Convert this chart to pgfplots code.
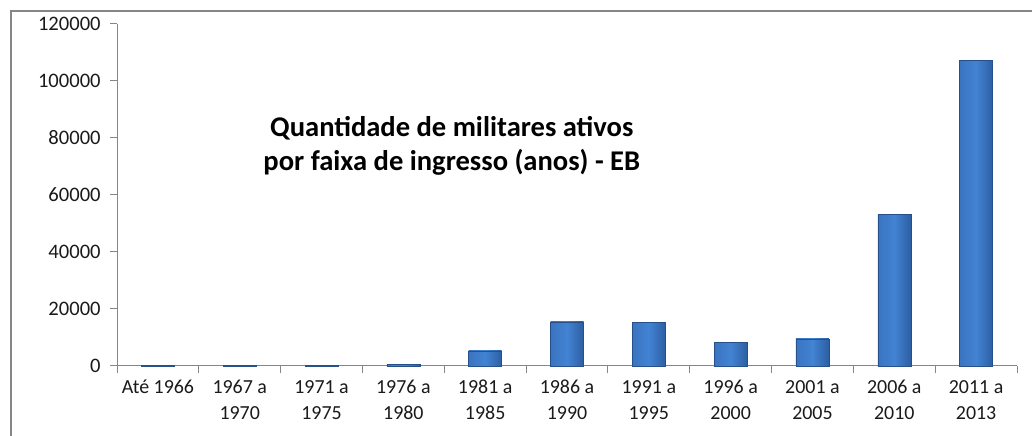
\documentclass[border=0pt]{standalone}
\usepackage{pgfplots}
\pgfplotsset{compat=1.18}
\usepackage{fontspec}
\setmainfont{Carlito}
\definecolor{axgray}{HTML}{868686}
\definecolor{txt}{HTML}{1A1A1A}
\definecolor{barL}{HTML}{3A74C0}
\definecolor{barM}{HTML}{4283D3}
\definecolor{barR}{HTML}{2D5EA2}
\newcommand\tl[2]{\strut #1\\\strut #2}
\pgfplotstableread{
x y
0 150
1 150
2 200
3 700
4 5300
5 15500
6 15200
7 8400
8 9500
9 53300
10 107200
}\datatable
\begin{document}
\begin{tikzpicture}
\useasboundingbox (0,0) rectangle (774bp,327bp);
\fill[white] (0,0) rectangle (774bp,327bp);
\draw[axgray, line width=1.6bp] (8.25bp,-5bp) -- (8.25bp,318.75bp) -- (780bp,318.75bp);
\begin{axis}[
  at={(87.75bp,52.5bp)}, anchor=south west,
  scale only axis, width=675bp, height=256.5bp,
  xmin=-0.5, xmax=10.5, ymin=0, ymax=120000,
  axis x line*=bottom, axis y line*=left,
  axis line style={axgray, line width=0.75bp},
  every tick/.style={axgray, line width=0.75bp},
  ytick={0,20000,...,120000},
  scaled y ticks=false,
  xtick={-0.5,0.5,...,10.5},
  xticklabels={},
  extra x ticks={0,...,10},
  extra x tick style={major tick length=0pt, tick style={draw=none}},
  extra x tick labels={{\strut Até 1966},{\tl{1967 a}{1970}},{\tl{1971 a}{1975}},{\tl{1976 a}{1980}},{\tl{1981 a}{1985}},{\tl{1986 a}{1990}},{\tl{1991 a}{1995}},{\tl{1996 a}{2000}},{\tl{2001 a}{2005}},{\tl{2006 a}{2010}},{\tl{2011 a}{2013}}},
  x tick label style={align=center, font=\fontsize{15}{20}\selectfont, text=txt, anchor=north, yshift=-3bp},
  y tick label style={font=\fontsize{15.5}{18}\selectfont, text=txt},
  tick align=outside, major tick length=5.25bp,
  /pgf/number format/.cd, fixed, 1000 sep={}, assume math mode=true,
  /pgfplots/.cd,
  yticklabel style={xshift=-3.5bp},
  clip=false,
]
\pgfplotsinvokeforeach{0,...,10}{
\addplot[ybar, bar shift=0pt, bar width=24.75bp, draw=barR!85!black, line width=0.3bp, left color=barL, right color=barR, middle color=barM]
  table[x=x,y=y, restrict x to domain=#1:#1] {\datatable};
}
\node[font=\fontsize{21.5}{26}\selectfont\bfseries, align=center, text=black] at (rel axis cs:0.372,0.643) {Quantidade de militares ativos\\por faixa de ingresso (anos) - EB};
\end{axis}
\end{tikzpicture}
\end{document}
